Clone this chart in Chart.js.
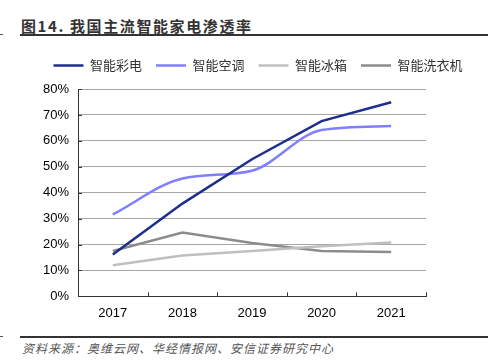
<!DOCTYPE html>
<html>
<head>
<meta charset="utf-8">
<script src="https://cdn.jsdelivr.net/npm/chart.js@4"></script>
<style>
body { margin: 0; background: #fff; }
#wrap { position: relative; width: 488px; height: 361px; overflow: hidden; }
#title { position: absolute; left: 21px; top: 15px; font: bold 15px "Noto Sans CJK SC", sans-serif; letter-spacing: 1.6px; color: #333; white-space: nowrap; }
#source { position: absolute; left: 22px; top: 339px; font: italic 12px "Noto Sans CJK SC", sans-serif; letter-spacing: 1px; color: #555; white-space: nowrap; }
.rule { position: absolute; left: 20px; width: 468px; background: #333; }
.mark { position: absolute; left: 0; width: 3px; height: 1px; background: #555; }
#chart_box { position: absolute; left: 0; top: 40px; width: 488px; height: 290px; }
</style>
</head>
<body>
<div id="wrap">
    <div id="title">图14. 我国主流智能家电渗透率</div>
    <div class="rule" style="top:34px;height:2px;"></div>
    <div class="mark" style="top:34px;"></div>
    <div id="chart_box"><canvas id="home_graph"></canvas></div>
    <div class="rule" style="top:336px;height:1.5px;"></div>
    <div class="mark" style="top:336px;"></div>
    <div id="source">资料来源：奥维云网、华经情报网、安信证券研究中心</div>
</div>
<script>
// 年份と各家電の普及率(%)
const years = ["2017", "2018", "2019", "2020", "2021"];
const tv_rate     = [16.2, 35.8, 52.9, 67.6, 74.9];
const ac_rate     = [31.6, 45.5, 48.5, 64.2, 65.7];
const fridge_rate = [12.0, 15.8, 17.5, 19.3, 20.8];
const washer_rate = [17.5, 24.6, 20.6, 17.5, 17.1];
const y_ticks = [0, 10, 20, 30, 40, 50, 60, 70, 80];

window.addEventListener("load", function () {
    draw_home_graph();
});

// 凡例の下に少し余白を足す
const legend_gap = {
    id: "legend_gap",
    beforeInit(chart) {
        const orig_fit = chart.legend.fit;
        chart.legend.fit = function () {
            orig_fit.bind(chart.legend)();
            this.height += 7;
        };
    }
};

// 軸の内側に向いた目盛りを描く
const inner_ticks = {
    id: "inner_ticks",
    afterDraw(chart) {
        const ctx = chart.ctx;
        const x = chart.scales.x;
        const y = chart.scales.y;
        ctx.save();
        ctx.strokeStyle = "#333";
        ctx.lineWidth = 1;
        ctx.beginPath();
        const step = (x.right - x.left) / years.length;
        for (let i = 1; i <= years.length; i++) {
            const px = Math.round(x.left + step * i) + 0.5;
            ctx.moveTo(px, y.bottom);
            ctx.lineTo(px, y.bottom - 4);
        }
        for (let v of y_ticks) {
            const py = Math.round(y.getPixelForValue(v)) + 0.5;
            ctx.moveTo(x.left, py);
            ctx.lineTo(x.left + 4, py);
        }
        ctx.stroke();
        ctx.restore();
    }
};

function draw_home_graph() {
    const ctx = document.getElementById("home_graph").getContext("2d");
    const myChart = new Chart(ctx, {
        type: "line",
        data: {
            labels: years,
            datasets: [
                { label: "智能彩电", data: tv_rate, borderColor: "#1c2e8f", backgroundColor: "#1c2e8f" },
                { label: "智能空调", data: ac_rate, borderColor: "#7f7fff", backgroundColor: "#7f7fff", cubicInterpolationMode: "monotone" },
                { label: "智能冰箱", data: fridge_rate, borderColor: "#bfbfbf", backgroundColor: "#bfbfbf" },
                { label: "智能洗衣机", data: washer_rate, borderColor: "#8c8c8c", backgroundColor: "#8c8c8c" }
            ]
        },
        options: {
            responsive: true,
            maintainAspectRatio: false,
            animation: false,
            layout: { padding: { left: 28, right: 0, top: 5, bottom: 0 } },
            elements: {
                line: { borderWidth: 2.5, tension: 0 },
                point: { radius: 0 }
            },
            plugins: {
                tooltip: { enabled: false },
                legend: {
                    position: "top",
                    labels: {
                        usePointStyle: true,
                        pointStyle: "line",
                        pointStyleWidth: 30,
                        boxHeight: 13,
                        padding: 14,
                        color: "#333",
                        font: { family: "'Noto Sans CJK SC'", size: 13 },
                        generateLabels: function (chart) {
                            return chart.data.datasets.map(function (ds, i) {
                                return {
                                    text: ds.label,
                                    datasetIndex: i,
                                    fillStyle: ds.borderColor,
                                    strokeStyle: ds.borderColor,
                                    lineWidth: 2.5,
                                    pointStyle: "line",
                                    fontColor: "#333",
                                    hidden: false
                                };
                            });
                        }
                    }
                }
            },
            scales: {
                x: {
                    offset: true,
                    grid: { display: true, drawOnChartArea: false, drawTicks: false },
                    border: { display: true, color: "#333", width: 1 },
                    ticks: { color: "#000", padding: 9, font: { family: "'Liberation Sans'", size: 13 } }
                },
                y: {
                    min: 0,
                    max: 80,
                    afterFit: function (scale) { scale.width = 50; },
                    ticks: {
                        stepSize: 10,
                        padding: 9,
                        color: "#000",
                        font: { family: "'Liberation Sans'", size: 13 },
                        callback: function (v) { return v + "%"; }
                    },
                    grid: { color: "#a6a6a6", drawTicks: false },
                    border: { display: true, color: "#333", width: 1, dash: [] }
                },
                // 右側の余白を確保するための見えない軸
                y_space: {
                    position: "right",
                    display: true,
                    afterFit: function (scale) { scale.width = 62; },
                    ticks: { display: false },
                    grid: { display: false, drawTicks: false },
                    border: { display: false }
                }
            }
        },
        plugins: [legend_gap, inner_ticks]
    });
}
</script>
</body>
</html>
